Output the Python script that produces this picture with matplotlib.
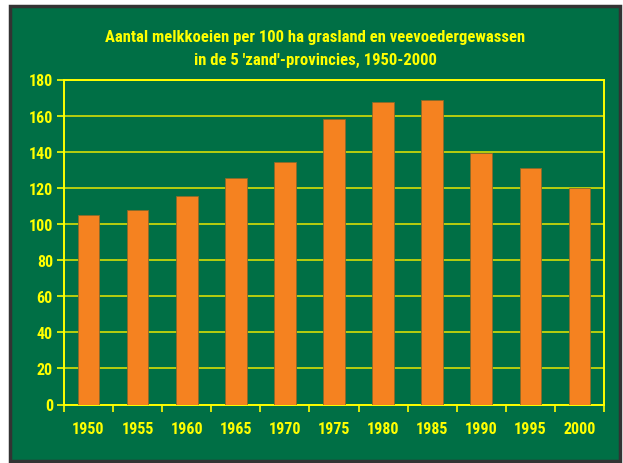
import matplotlib.pyplot as plt
from matplotlib.patches import Rectangle
import numpy as np

# data
years = ['1950', '1955', '1960', '1965', '1970', '1975', '1980', '1985', '1990', '1995', '2000']
cows = [105, 107.5, 115.3, 125.7, 134.5, 158, 167.6, 168.4, 139.2, 131.1, 120.1]
yticks = [0, 20, 40, 60, 80, 100, 120, 140, 160, 180]

green = '#006f45'
orange = '#f58220'
yellow = '#ffff00'
font = ['Roboto Condensed', 'DejaVu Sans']

fig = plt.figure(figsize=(6.23, 4.64), dpi=100)
fig.patch.set_facecolor('white')

# dark frame with green panel
frame = Rectangle((10 / 623, 1 - 462 / 464), 610 / 623, 455 / 464,
                  transform=fig.transFigure, facecolor=green,
                  edgecolor='#333333', linewidth=2.5, zorder=-5)
fig.patches.append(frame)

ax = fig.add_axes([64 / 623, 1 - 405.5 / 464, 540 / 623, 325 / 464])
ax.set_facecolor(green)

x = np.arange(len(years))
ax.bar(x, cows, width=0.44, color=orange, edgecolor='#8a6a2a', linewidth=0.6, zorder=3)

ax.set_xlim(-0.5, len(years) - 0.5)
ax.set_ylim(0, 180)
ax.set_yticks(yticks)
ax.set_yticklabels([str(v) for v in yticks])
ax.yaxis.grid(True, color='#e8e800', linewidth=1.1, zorder=1)
ax.set_axisbelow(True)

# x ticks at category boundaries, labels centered under bars
ax.set_xticks(np.arange(-0.5, len(years), 1.0))
ax.set_xticklabels([])
ax.set_xticks(x, minor=True)
ax.set_xticklabels(years, minor=True)
ax.tick_params(axis='x', which='minor', length=0, pad=12)
ax.tick_params(axis='x', which='major', length=5, color=yellow, width=1.2)
ax.tick_params(axis='y', length=5, color=yellow, width=1.2, pad=3)

for lbl in ax.get_xticklabels(minor=True) + ax.get_yticklabels():
    lbl.set_color(yellow)
    lbl.set_fontfamily(font)
    lbl.set_fontweight('bold')
    lbl.set_fontsize(11.5)

for s in ax.spines.values():
    s.set_color(yellow)
    s.set_linewidth(1.4)

fig.text(315 / 623, 1 - 37.5 / 464, 'Aantal melkkoeien per 100 ha grasland en veevoedergewassen',
         ha='center', va='center', color=yellow, fontsize=12, fontweight='bold', family=font)
fig.text(315 / 623, 1 - 60 / 464, "in de 5 'zand'-provincies, 1950-2000",
         ha='center', va='center', color=yellow, fontsize=12, fontweight='bold', family=font)

fig.savefig('out.png', dpi=100)
